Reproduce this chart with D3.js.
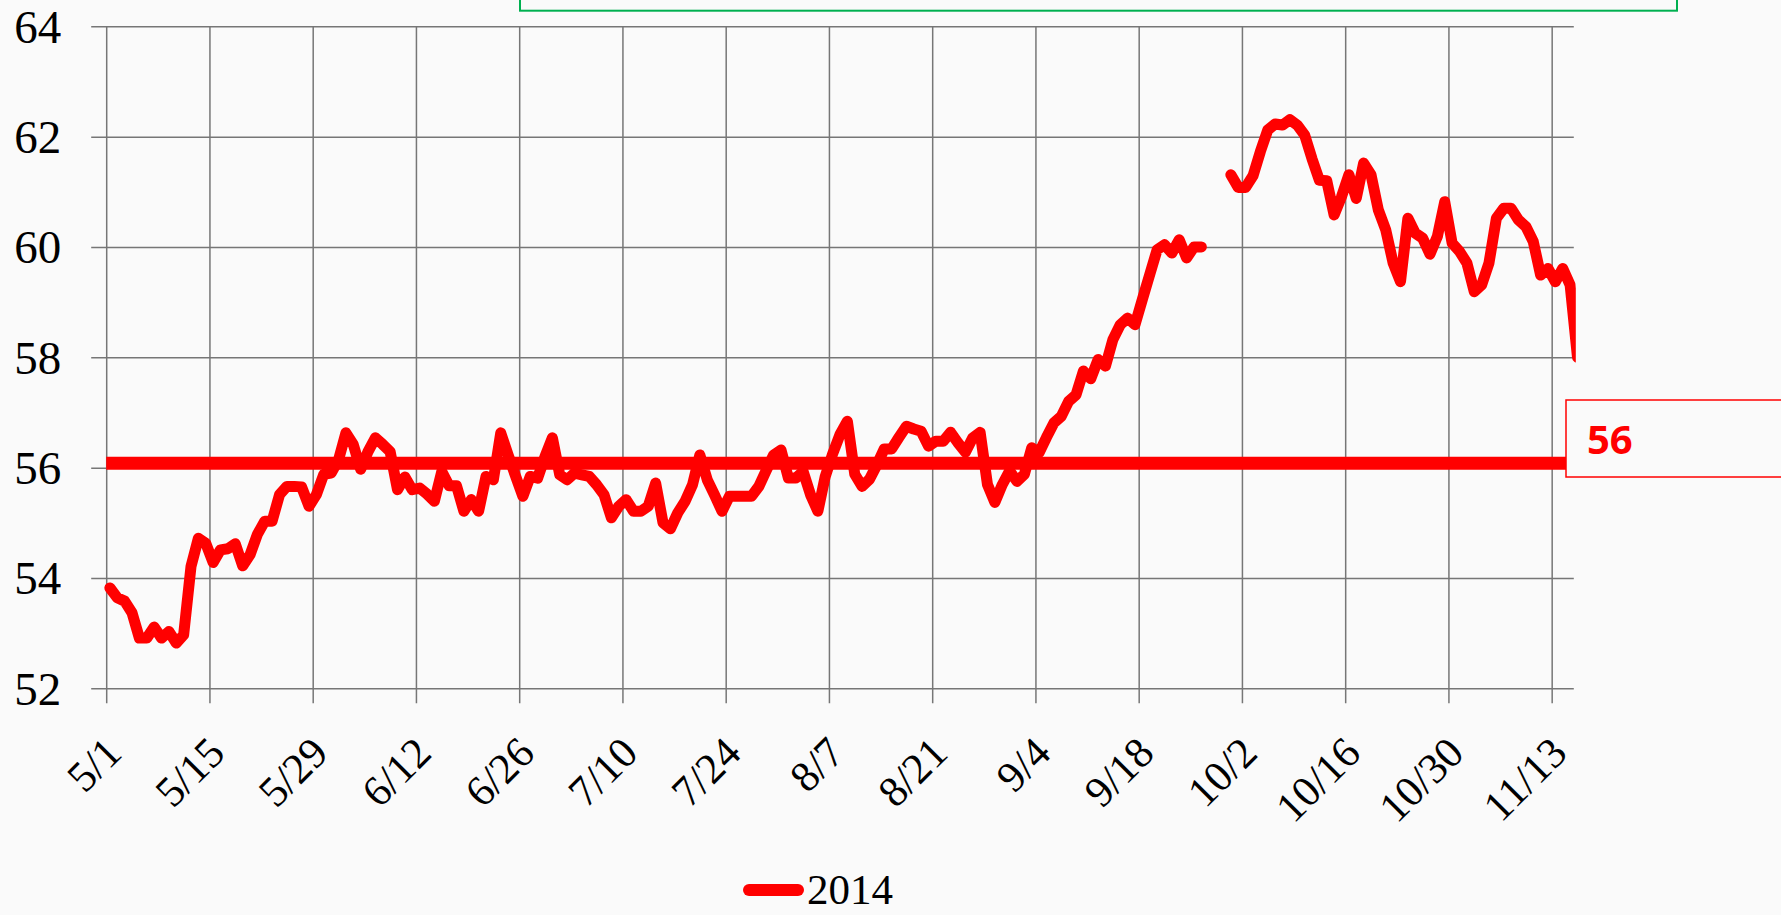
<!DOCTYPE html>
<html>
<head>
<meta charset="utf-8">
<script src="https://cdn.jsdelivr.net/npm/d3@7/dist/d3.min.js"></script>
<style>
  html, body { margin: 0; padding: 0; background: #fafafa; }
  svg { display: block; }
</style>
</head>
<body>
<svg id="chart" width="1781" height="915"></svg>
<script>
// ---------------- DATA ----------------
const seriesName = "2014";
const dates = [
  "5/1","5/2","5/3","5/4","5/5","5/6","5/7","5/8","5/9","5/10",
  "5/11","5/12","5/13","5/14","5/15","5/16","5/17","5/18","5/19","5/20",
  "5/21","5/22","5/23","5/24","5/25","5/26","5/27","5/28","5/29","5/30",
  "5/31","6/1","6/2","6/3","6/4","6/5","6/6","6/7","6/8","6/9",
  "6/10","6/11","6/12","6/13","6/14","6/15","6/16","6/17","6/18","6/19",
  "6/20","6/21","6/22","6/23","6/24","6/25","6/26","6/27","6/28","6/29",
  "6/30","7/1","7/2","7/3","7/4","7/5","7/6","7/7","7/8","7/9",
  "7/10","7/11","7/12","7/13","7/14","7/15","7/16","7/17","7/18","7/19",
  "7/20","7/21","7/22","7/23","7/24","7/25","7/26","7/27","7/28","7/29",
  "7/30","7/31","8/1","8/2","8/3","8/4","8/5","8/6","8/7","8/8",
  "8/9","8/10","8/11","8/12","8/13","8/14","8/15","8/16","8/17","8/18",
  "8/19","8/20","8/21","8/22","8/23","8/24","8/25","8/26","8/27","8/28",
  "8/29","8/30","8/31","9/1","9/2","9/3","9/4","9/5","9/6","9/7",
  "9/8","9/9","9/10","9/11","9/12","9/13","9/14","9/15","9/16","9/17",
  "9/18","9/19","9/20","9/21","9/22","9/23","9/24","9/25","9/26","9/27",
  "9/30","10/1","10/2","10/3","10/4","10/5","10/6","10/7","10/8","10/9",
  "10/10","10/11","10/12","10/13","10/14","10/15","10/16","10/17","10/18","10/19",
  "10/20","10/21","10/22","10/23","10/24","10/25","10/26","10/27","10/28","10/29",
  "10/30","10/31","11/1","11/2","11/3","11/4","11/5","11/6","11/7","11/8",
  "11/9","11/10","11/11","11/12","11/13","11/14","11/15","11/16"
];
const values2014 = [
  53.82,53.64,53.58,53.37,52.91,52.91,53.11,52.91,53.03,52.82,
  52.97,54.21,54.72,54.63,54.28,54.51,54.53,54.62,54.22,54.42,
  54.79,55.03,55.03,55.51,55.66,55.66,55.65,55.30,55.51,55.88,
  55.90,56.14,56.63,56.42,55.97,56.29,56.54,56.42,56.29,55.60,
  55.83,55.60,55.63,55.52,55.39,55.93,55.67,55.67,55.21,55.42,
  55.21,55.84,55.78,56.63,56.23,55.85,55.48,55.84,55.81,56.20,
  56.54,55.87,55.78,55.90,55.87,55.84,55.69,55.51,55.09,55.30,
  55.42,55.21,55.21,55.30,55.72,55.00,54.89,55.18,55.39,55.69,
  56.23,55.78,55.50,55.21,55.48,55.48,55.48,55.48,55.66,55.95,
  56.23,56.32,55.81,55.81,55.93,55.51,55.21,55.84,56.25,56.60,
  56.84,55.88,55.66,55.79,56.05,56.34,56.34,56.55,56.75,56.70,
  56.66,56.39,56.48,56.48,56.64,56.45,56.28,56.54,56.64,55.69,
  55.37,55.69,55.94,55.75,55.88,56.36,56.27,56.55,56.81,56.93,
  57.20,57.32,57.75,57.61,57.96,57.84,58.32,58.59,58.71,58.59,
  59.05,59.50,59.95,60.04,59.89,60.13,59.80,60.00,60.00,null,
  61.31,61.08,61.08,61.29,61.73,62.12,62.23,62.21,62.31,62.21,
  62.03,61.60,61.21,61.20,60.58,60.91,61.31,60.88,61.52,61.31,
  60.67,60.31,59.71,59.37,60.52,60.25,60.16,59.87,60.19,60.82,
  60.07,59.92,59.71,59.19,59.31,59.71,60.52,60.70,60.70,60.49,
  60.37,60.10,59.49,59.61,59.37,59.61,59.31,58.00
];
const refValue = 56.08;            // horizontal reference series
const refStart = "5/1";
const refEnd = "11/15";
const xTickLabels = ["5/1","5/15","5/29","6/12","6/26","7/10","7/24","8/7","8/21","9/4","9/18","10/2","10/16","10/30","11/13"];
const yTicks = [52,54,56,58,60,62,64];
const xDomain = ["5/1","11/16"];
const yDomain = [52,64];

// ---------------- SETUP ----------------
const YEAR = 2014;
const parse = s => { const [m,d] = s.split("/").map(Number); return new Date(Date.UTC(YEAR, m-1, d)); };
const HALF_DAY = 12*3600*1000;

const svg = d3.select("#chart");
const W = 1781, H = 915;
svg.append("rect").attr("width", W).attr("height", H).attr("fill", "#fafafa");

const plot = { left: 106.2, right: 1573.8, top: 26.3, bottom: 688.3 };
const tickLen = 15;
const gridColor = "#767676";
const serif = "'Liberation Serif', 'DejaVu Serif', serif";

const x = d3.scaleUtc().domain(xDomain.map(parse)).range([plot.left, plot.right]);
const y = d3.scaleLinear().domain(yDomain).range([plot.bottom, plot.top]);

// green box at top
svg.append("rect")
  .attr("x", 520).attr("y", -30).attr("width", 1157).attr("height", 40.7)
  .attr("fill", "none").attr("stroke", "#00b050").attr("stroke-width", 2);

// Y axis with gridlines
const yAxis = d3.axisLeft(y).tickValues(yTicks)
  .tickSizeInner(-(plot.right - plot.left + tickLen)).tickSizeOuter(0).tickPadding(30)
  .tickFormat(d3.format("d"));
const gy = svg.append("g").attr("transform", `translate(${plot.left - tickLen},0)`).call(yAxis);
gy.select(".domain").remove();
gy.selectAll(".tick line").attr("stroke", gridColor).attr("stroke-width", 1.5);
gy.selectAll(".tick text")
  .attr("font-family", serif).attr("font-size", 47).attr("fill", "#000")
  .attr("dy", 0).attr("y", 16);

// X axis with gridlines
const xTickDates = xTickLabels.map(parse);
const labelOf = new Map(xTickLabels.map((l, i) => [+xTickDates[i], l]));
const xAxis = d3.axisBottom(x).tickValues(xTickDates)
  .tickSizeInner(-(plot.bottom + tickLen - plot.top)).tickSizeOuter(0)
  .tickFormat(d => labelOf.get(+d));
const gx = svg.append("g").attr("transform", `translate(0,${plot.bottom + tickLen})`).call(xAxis);
gx.select(".domain").remove();
gx.selectAll(".tick line").attr("stroke", gridColor).attr("stroke-width", 1.5);
gx.selectAll(".tick text")
  .attr("font-family", serif).attr("font-size", 43).attr("fill", "#000")
  .attr("text-anchor", "end")
  .attr("x", 17).attr("y", 52).attr("dy", 0)
  .attr("transform", "rotate(-45,17,52)");

// clip for plot area
svg.append("clipPath").attr("id", "plotclip")
  .append("rect").attr("x", plot.left - 10).attr("y", 0)
  .attr("width", plot.right + 2 - (plot.left - 10)).attr("height", H);

// reference line
const refData = [parse(refStart), new Date(+parse(refEnd) + HALF_DAY)].map(d => ({ d, v: refValue }));
svg.append("path")
  .datum(refData)
  .attr("d", d3.line().x(p => x(p.d)).y(p => y(p.v)))
  .attr("fill", "none").attr("stroke", "#ff0000").attr("stroke-width", 13);

// data line
const series = dates.map((s, i) => ({ d: new Date(+parse(s) + HALF_DAY), v: values2014[i] }));
svg.append("g").attr("clip-path", "url(#plotclip)")
  .append("path")
  .datum(series)
  .attr("d", d3.line().defined(p => p.v != null).x(p => x(p.d)).y(p => y(p.v)))
  .attr("fill", "none").attr("stroke", "#ff0000").attr("stroke-width", 11)
  .attr("stroke-linejoin", "round").attr("stroke-linecap", "round");

// data label box for reference line
svg.append("rect")
  .attr("x", 1566).attr("y", 400).attr("width", 260).attr("height", 77)
  .attr("fill", "#fafafa").attr("stroke", "#ff0000").attr("stroke-width", 1.5);
svg.append("text")
  .attr("x", 1587).attr("y", 454)
  .attr("font-family", "'Open Sans', 'Noto Sans', sans-serif").attr("font-weight", "bold")
  .attr("font-size", 40).attr("fill", "#ff0000")
  .text(d3.format(".0f")(refValue));

// legend
const lg = svg.append("g");
lg.append("line").attr("x1", 749).attr("x2", 798).attr("y1", 890).attr("y2", 890)
  .attr("stroke", "#ff0000").attr("stroke-width", 12).attr("stroke-linecap", "round");
lg.append("text").attr("x", 807).attr("y", 904)
  .attr("font-family", serif).attr("font-size", 43).attr("fill", "#000")
  .text(seriesName);
</script>
</body>
</html>
